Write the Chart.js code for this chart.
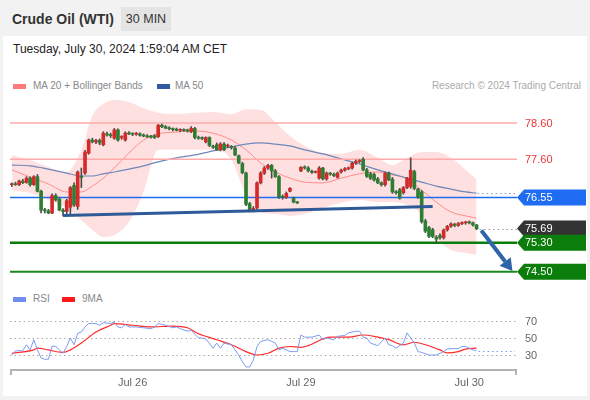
<!DOCTYPE html>
<html>
<head>
<meta charset="utf-8">
<script src="https://cdn.jsdelivr.net/npm/chart.js@4.4.1/dist/chart.umd.min.js"></script>
<style>
  html, body { margin: 0; padding: 0; }
  body { width: 590px; height: 400px; background: #f2f2f2; position: relative; overflow: hidden;
         font-family: "Liberation Sans", Arial, sans-serif; }
  .card  { position: absolute; left: 3px; top: 36px; width: 584px; height: 360px; background: #fff; }
  .title { position: absolute; left: 12px; top: 11px; font-size: 14px; font-weight: bold; color: #333; }
  .badge { position: absolute; left: 121px; top: 7px; width: 50px; height: 24px; line-height: 24px;
           text-align: center; background: #e4e4e4; font-size: 12.5px; color: #333; }
  .date  { position: absolute; left: 13px; top: 42px; font-size: 12px; color: #222; }
  .sw    { position: absolute; width: 13px; height: 5px; }
  .lg    { position: absolute; font-size: 10px; color: #888; line-height: 12px; }
  .research { position: absolute; right: 9px; top: 80px; font-size: 10px; color: #aaa; }
  canvas { position: absolute; left: 0; }
</style>
</head>
<body>
<div class="card"></div>
<div class="title">Crude Oil (WTI)</div>
<div class="badge">30 MIN</div>
<div class="date">Tuesday, July 30, 2024 1:59:04 AM CET</div>
<div class="sw" style="left:13px; top:84px; background:#ff7b7b"></div>
<div class="lg" style="left:33px; top:80px">MA 20 + Bollinger Bands</div>
<div class="sw" style="left:157px; top:84px; background:#325aa0"></div>
<div class="lg" style="left:175px; top:80px">MA 50</div>
<div class="research">Research © 2024 Trading Central</div>
<div class="sw" style="left:13px; top:297px; background:#6f8ff0"></div>
<div class="lg" style="left:33px; top:293px">RSI</div>
<div class="sw" style="left:62px; top:297px; background:#ff1a1a"></div>
<div class="lg" style="left:82px; top:293px">9MA</div>
<canvas id="main" width="590" height="195" style="top:95px"></canvas>
<canvas id="rsi" width="590" height="105" style="top:290px"></canvas>

<script>
// ── Data ──────────────────────────────────────
const opens = [76.90,76.92,76.90,77.00,76.96,77.08,76.90,77.12,76.72,76.20,76.18,76.12,76.60,76.50,76.20,76.16,76.28,76.88,76.30,77.12,
  77.22,77.77,78.13,78.08,78.12,78.00,78.30,78.27,78.18,78.41,78.20,78.13,78.32,78.30,78.29,78.30,78.26,78.24,78.22,78.25,
  78.22,78.54,78.50,78.46,78.44,78.42,78.40,78.41,78.39,78.36,78.45,78.20,78.18,78.08,78.20,77.96,78.00,77.86,78.02,77.96,
  77.94,77.91,77.70,77.48,77.22,76.38,76.20,76.26,76.95,77.22,77.36,77.43,77.28,77.12,76.58,76.55,76.72,76.52,76.42,77.28,
  77.38,77.36,77.27,77.24,77.08,77.36,77.06,77.20,77.19,77.10,77.25,77.30,77.34,77.36,77.50,77.54,77.60,77.31,77.20,77.18,
  77.06,76.95,76.90,77.22,77.05,76.70,76.76,76.68,76.82,76.85,77.26,76.78,76.70,75.90,75.72,75.66,75.45,75.50,75.44,75.66,
  75.76,75.80,75.78,75.83,75.85,75.87,75.85,75.79];
const highs = [76.95,76.97,77.03,77.05,77.12,77.12,77.15,77.18,76.75,76.25,76.22,76.65,76.65,76.55,76.24,76.50,76.85,76.95,77.28,77.36,
  77.85,78.16,78.18,78.15,78.16,78.36,78.35,78.32,78.45,78.44,78.25,78.36,78.36,78.33,78.34,78.33,78.30,78.28,78.26,78.28,
  78.56,78.57,78.53,78.50,78.47,78.46,78.44,78.44,78.43,78.50,78.48,78.24,78.22,78.22,78.22,77.99,78.05,78.06,78.06,78.02,
  77.98,77.95,77.72,77.52,77.25,76.42,76.30,76.98,77.26,77.40,77.46,77.46,77.32,77.15,76.62,76.70,76.82,76.56,76.44,77.40,
  77.42,77.40,77.30,77.28,77.40,77.38,77.25,77.24,77.22,77.25,77.33,77.37,77.39,77.52,77.58,77.59,77.65,77.35,77.24,77.22,
  77.10,76.98,77.25,77.25,77.10,76.74,76.80,76.85,77.10,77.64,77.30,76.80,76.74,75.95,75.75,75.70,75.50,75.55,75.68,75.78,
  75.85,75.84,75.86,75.88,75.89,75.90,75.87,75.81];
const lows = [76.85,76.88,76.87,76.93,76.94,76.86,76.88,76.70,76.12,76.12,76.10,76.10,76.45,76.18,76.04,76.06,76.06,76.30,76.22,76.82,
  77.18,77.74,78.05,78.03,78.00,77.97,78.24,78.20,78.15,78.10,78.15,78.10,78.28,78.25,78.26,78.24,78.22,78.20,78.18,78.17,
  78.20,78.47,78.44,78.41,78.38,78.38,78.36,78.37,78.35,78.33,78.16,78.15,78.14,78.05,77.95,77.90,77.84,77.83,77.84,77.92,
  77.88,77.70,77.48,77.20,76.32,76.15,76.15,76.22,76.92,77.18,77.32,77.08,77.10,76.52,76.50,76.52,76.70,76.40,76.38,77.26,
  77.33,77.25,77.21,77.22,77.05,77.03,77.02,77.16,77.12,77.08,77.22,77.27,77.31,77.33,77.46,77.50,77.28,77.10,77.04,77.00,
  76.93,76.86,76.86,77.01,76.66,76.64,76.50,76.64,76.79,76.80,76.76,76.52,75.84,75.58,75.44,75.44,75.29,75.40,75.40,75.62,
  75.72,75.74,75.75,75.80,75.81,75.82,75.76,75.66];
const closes = [76.92,76.90,77.00,76.96,77.08,76.90,77.12,76.72,76.20,76.18,76.12,76.60,76.48,76.20,76.16,76.46,76.82,76.34,77.25,77.10,
  77.80,78.13,78.08,78.12,78.05,78.32,78.27,78.25,78.41,78.13,78.21,78.32,78.30,78.29,78.30,78.26,78.24,78.22,78.21,78.20,
  78.54,78.50,78.46,78.44,78.42,78.40,78.41,78.39,78.38,78.45,78.20,78.18,78.17,78.20,77.98,77.93,77.86,78.02,77.86,77.98,
  77.92,77.72,77.50,77.23,76.36,76.18,76.25,76.95,77.22,77.36,77.43,77.28,77.12,76.56,76.55,76.66,76.80,76.42,76.40,77.38,
  77.36,77.28,77.24,77.26,77.36,77.06,77.22,77.19,77.15,77.22,77.30,77.34,77.36,77.49,77.54,77.56,77.31,77.13,77.08,77.03,
  76.95,76.90,77.22,77.03,76.70,76.68,76.53,76.82,77.08,77.30,76.80,76.55,75.88,75.62,75.48,75.47,75.40,75.44,75.65,75.75,
  75.82,75.78,75.83,75.85,75.87,75.85,75.79,75.69];

// indicator lines, read at these candle positions
const bandIdx   = [0,5,10,15,19,22,25,28,32,36,40,45,50,55,60,64,68,72,76,80,85,90,95,100,104,108,112,116,120,124,127];
const bandUpper = [77.72,77.58,77.39,77.25,77.86,78.80,79.12,79.23,79.18,79.01,78.88,78.85,78.88,78.90,78.84,78.98,78.96,78.63,78.24,77.97,
  77.77,77.75,77.86,77.64,77.44,77.64,77.80,77.80,77.64,77.31,77.05];
const bandLower = [76.75,76.67,76.48,76.26,75.93,75.65,75.46,75.51,75.87,76.70,77.86,77.86,77.86,77.86,77.58,76.62,76.15,76.09,76.04,76.09,
  76.26,76.40,76.48,76.42,76.42,76.34,76.07,75.43,75.10,75.02,74.97];
const ma20 = [77.31,77.11,76.92,76.70,76.70,76.86,77.08,77.36,77.77,78.13,78.30,78.35,78.38,78.32,78.13,77.86,77.50,77.25,77.08,76.97,
  76.95,77.08,77.20,77.25,77.17,77.06,76.75,76.42,76.15,76.04,75.98];
const ma50 = [77.44,77.42,77.33,77.22,77.14,77.14,77.20,77.25,77.33,77.42,77.53,77.64,77.72,77.83,77.94,78.02,78.05,78.02,77.97,77.86,
  77.75,77.61,77.47,77.31,77.20,77.08,76.97,76.86,76.78,76.70,76.67];

const rsiIdx  = [0,1,3,4,5,6,7,8,9,10,11,12,13,14,15,16,17,18,19,20,21,22,23,24,25,27,28,29,30,31,32,34,36,38,39,40,41,42,44,45,46,48,49,
  51,52,53,55,56,57,58,60,61,62,63,64,65,66,67,68,70,71,72,73,74,76,77,78,79,80,82,84,85,86,88,89,91,92,94,95,96,97,98,100,102,103,104,105,
  107,108,109,110,111,112,114,116,118,119,120,122,123,124,126,127];
const rsiVals = [30,35,35,42,36,48,36,26.5,25,25,40.6,40,36,32,40,50,42,55.6,57,63,67,67,67,65,68,67,69,63,62,66,63,63,62,61,63,67,66,65,62,63,61,58,59,
  50,50,49,38,44,38,44,42,36,30,22,16,16,24,40,46,48,46,44,36,38,34,34,34,53.5,51,51,53.5,48,50,48,52,53,56,58,58,51,50,44,41,50,42,41,38,
  44,56,50,44,34,33,30,30,34,37,37.5,37.5,40,40,36,35];
const maIdx  = [0,6,7,10,14,16,19,23,27,28,33,38,44,48,51,56,60,64,67,70,73,76,79,81,87,92,96,99,103,107,110,113,117,119,122,124,127];
const maVals = [32,36,38,36,33,36,44,57,65,67,65,63,64,62,55,48,42,34,30,32,38,40,39,41,51,51,53.5,52,48,42,45,42,36,32.5,34,37,38];

const levels = [78.60, 77.60, 76.55, 75.30, 74.50];
const trendIdx = [14, 115];
const trendVals = [76.05, 76.30];
const arrowIdx = [128.3, 136.8];
const arrowVals = [75.64, 74.52];

const dayTickIdx = [33, 79, 125];
const dayTickLabels = ['Jul 26', 'Jul 29', 'Jul 30'];
const rsiTicks = [70, 50, 30];
const slotCount = 138;

// ── Styles ────────────────────────────────────
const FONT = '"Liberation Sans", Arial, sans-serif';
const levelStyles = [
  { line: '#ffaaaa', width: 1.5, text: '#ee3535' },
  { line: '#ffaaaa', width: 1.5, text: '#ee3535' },
  { line: '#1f6cf2', width: 1.5, box: '#1f6cf2' },
  { line: '#0b7d0b', width: 2.5, box: '#0b7d0b' },
  { line: '#1a881a', width: 2,   box: '#0b7d0b' }
];
const LABEL_X = 517;

const pts = (idx, vals) => idx.map((x, k) => ({ x, y: vals[k] }));
const candleIdx = closes.map((_, i) => i);

function labelBox(ctx, y, color, text) {
  ctx.save();
  ctx.fillStyle = color;
  ctx.beginPath();
  ctx.moveTo(LABEL_X, y);
  ctx.lineTo(LABEL_X + 7, y - 8);
  ctx.lineTo(586, y - 8);
  ctx.lineTo(586, y + 8);
  ctx.lineTo(LABEL_X + 7, y + 8);
  ctx.closePath();
  ctx.fill();
  ctx.fillStyle = '#fff';
  ctx.font = '11px ' + FONT;
  ctx.textBaseline = 'middle';
  ctx.fillText(text, 525, y + 0.5);
  ctx.restore();
}

function dotted(ctx, x0, x1, y, color) {
  ctx.save();
  ctx.strokeStyle = color;
  ctx.lineWidth = 1;
  ctx.setLineDash([1.5, 3]);
  ctx.beginPath();
  ctx.moveTo(x0, Math.round(y) + 0.5);
  ctx.lineTo(x1, Math.round(y) + 0.5);
  ctx.stroke();
  ctx.restore();
}

// ── Main price chart ──────────────────────────
const priceDecor = {
  id: 'priceDecor',
  beforeDatasetDraw(chart, args) {
    if (args.index !== 4) return;              // just before the candle wicks
    const { ctx, chartArea, scales: { y } } = chart;
    levels.forEach((v, k) => {
      const py = y.getPixelForValue(v);
      ctx.save();
      ctx.strokeStyle = levelStyles[k].line;
      ctx.lineWidth = levelStyles[k].width;
      ctx.beginPath();
      ctx.moveTo(chartArea.left, py);
      ctx.lineTo(LABEL_X, py);
      ctx.stroke();
      ctx.restore();
    });
  },
  afterDatasetsDraw(chart) {
    const { ctx, scales: { x, y } } = chart;
    const last = closes.length - 1;

    // dotted extensions
    dotted(ctx, x.getPixelForValue(bandIdx[bandIdx.length - 1]) + 1, LABEL_X, y.getPixelForValue(ma50[ma50.length - 1]), '#8d9dbd');
    dotted(ctx, x.getPixelForValue(last) + 3, LABEL_X, y.getPixelForValue(closes[last]), '#999');

    // projection arrow
    const ax0 = x.getPixelForValue(arrowIdx[0]), ay0 = y.getPixelForValue(arrowVals[0]);
    const ax1 = x.getPixelForValue(arrowIdx[1]), ay1 = y.getPixelForValue(arrowVals[1]);
    const a = Math.atan2(ay1 - ay0, ax1 - ax0);
    const hl = 12, hw = 7;
    const bx = ax1 - Math.cos(a) * hl, by = ay1 - Math.sin(a) * hl;
    ctx.save();
    ctx.strokeStyle = '#2e64a8';
    ctx.fillStyle = '#2e64a8';
    ctx.lineWidth = 4;
    ctx.beginPath();
    ctx.moveTo(ax0, ay0);
    ctx.lineTo(bx, by);
    ctx.stroke();
    ctx.beginPath();
    ctx.moveTo(ax1, ay1);
    ctx.lineTo(bx - Math.sin(a) * hw, by + Math.cos(a) * hw);
    ctx.lineTo(bx + Math.sin(a) * hw, by - Math.cos(a) * hw);
    ctx.closePath();
    ctx.fill();
    ctx.restore();

    // price labels
    levels.forEach((v, k) => {
      const py = y.getPixelForValue(v);
      const st = levelStyles[k];
      if (st.text) {
        ctx.save();
        ctx.fillStyle = st.text;
        ctx.font = '11px ' + FONT;
        ctx.textBaseline = 'middle';
        ctx.fillText(v.toFixed(2), 525, py + 0.5);
        ctx.restore();
      }
    });
    labelBox(ctx, y.getPixelForValue(levels[2]), levelStyles[2].box, levels[2].toFixed(2));
    labelBox(ctx, y.getPixelForValue(closes[last]), '#333', closes[last].toFixed(2));
    labelBox(ctx, y.getPixelForValue(levels[3]), levelStyles[3].box, levels[3].toFixed(2));
    labelBox(ctx, y.getPixelForValue(levels[4]), levelStyles[4].box, levels[4].toFixed(2));
  }
};

new Chart(document.getElementById('main'), {
  type: 'bar',
  data: {
    datasets: [
      { type: 'line', data: pts(bandIdx, bandUpper), borderWidth: 0, pointRadius: 0, fill: '+1',
        backgroundColor: 'rgba(255,0,0,0.12)', cubicInterpolationMode: 'monotone', order: 10 },
      { type: 'line', data: pts(bandIdx, bandLower), borderWidth: 0, pointRadius: 0, fill: false,
        cubicInterpolationMode: 'monotone', order: 10 },
      { type: 'line', data: pts(bandIdx, ma20), borderColor: '#ff8c8c', borderWidth: 1, pointRadius: 0,
        cubicInterpolationMode: 'monotone', order: 9 },
      { type: 'line', data: pts(bandIdx, ma50), borderColor: '#6f87b8', borderWidth: 1.2, pointRadius: 0,
        cubicInterpolationMode: 'monotone', order: 8 },
      { type: 'bar', data: candleIdx.map(i => ({ x: i, y: [lows[i], highs[i]] })), backgroundColor: '#4a4a4a',
        barThickness: 1, grouped: false, order: 3 },
      { type: 'bar', data: candleIdx.map(i => ({ x: i, y: [opens[i], closes[i]] })),
        backgroundColor: candleIdx.map(i => closes[i] >= opens[i] ? '#d42a2a' : '#2e7d32'),
        barThickness: 3, minBarLength: 1, grouped: false, order: 2 },
      { type: 'line', data: pts(trendIdx, trendVals), borderColor: '#2f5a98', borderWidth: 3, pointRadius: 0, order: 1 }
    ]
  },
  options: {
    responsive: false,
    animation: false,
    devicePixelRatio: 1,
    layout: { padding: { left: 10, right: 75, top: 0, bottom: 5 } },
    plugins: { legend: { display: false }, tooltip: { enabled: false } },
    scales: {
      x: { type: 'linear', min: -0.5, max: slotCount - 0.5, offset: false, display: false },
      y: { min: 74.137, max: 79.371, display: false }
    }
  },
  plugins: [priceDecor]
});

// ── RSI panel ─────────────────────────────────
const rsiDecor = {
  id: 'rsiDecor',
  beforeDatasetsDraw(chart) {
    const { ctx, chartArea, scales: { x, y } } = chart;
    ctx.save();
    rsiTicks.forEach(t => {
      const py = y.getPixelForValue(t);
      dotted(ctx, chartArea.left, chartArea.right + 1, py, '#aaa');
      ctx.fillStyle = '#666';
      ctx.font = '11px ' + FONT;
      ctx.textBaseline = 'middle';
      ctx.fillText(String(t), 525, py + 0.5);
    });
    // bottom axis
    ctx.strokeStyle = '#b3b3b3';
    ctx.lineWidth = 2;
    ctx.beginPath();
    ctx.moveTo(chartArea.left + 1, chartArea.bottom + 5);
    ctx.lineTo(chartArea.left + 1, chartArea.bottom);
    ctx.lineTo(chartArea.right + 1, chartArea.bottom);
    ctx.lineTo(chartArea.right + 1, chartArea.bottom + 5);
    ctx.stroke();
    ctx.fillStyle = '#666';
    ctx.font = '11px ' + FONT;
    ctx.textAlign = 'center';
    ctx.textBaseline = 'middle';
    dayTickIdx.forEach((d, k) => ctx.fillText(dayTickLabels[k], x.getPixelForValue(d), chartArea.bottom + 13));
    ctx.restore();
  },
  afterDatasetsDraw(chart) {
    const { ctx, chartArea, scales: { x, y } } = chart;
    dotted(ctx, x.getPixelForValue(rsiIdx[rsiIdx.length - 1]) + 2, chartArea.right,
      y.getPixelForValue(rsiVals[rsiVals.length - 1]), '#7d9bf0');
  }
};

new Chart(document.getElementById('rsi'), {
  type: 'line',
  data: {
    datasets: [
      { data: pts(rsiIdx, rsiVals), borderColor: '#7d9bf0', borderWidth: 1, pointRadius: 0, tension: 0 },
      { data: pts(maIdx, maVals), borderColor: '#ff2a2a', borderWidth: 1.2, pointRadius: 0, cubicInterpolationMode: 'monotone' }
    ]
  },
  options: {
    responsive: false,
    animation: false,
    devicePixelRatio: 1,
    layout: { padding: { left: 10, right: 75, top: 10, bottom: 25 } },
    plugins: { legend: { display: false }, tooltip: { enabled: false } },
    scales: {
      x: { type: 'linear', min: -0.5, max: slotCount - 0.5, display: false },
      y: { min: 12.35, max: 94.7, display: false }
    }
  },
  plugins: [rsiDecor]
});
</script>
</body>
</html>
